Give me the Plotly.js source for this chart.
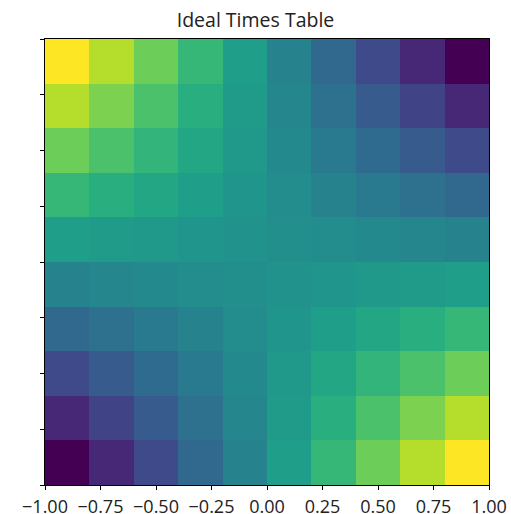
<!DOCTYPE html>
<html>
<head>
<meta charset="utf-8">
<script src="https://cdn.plot.ly/plotly-3.0.1.min.js"></script>
<style>html,body{margin:0;padding:0;background:#fff;}#chart{width:511px;height:514px;}</style>
</head>
<body>
<div id="chart"></div>
<script>
// cell centres along each axis
var xCenters = [-0.9, -0.7, -0.5, -0.3, -0.1, 0.1, 0.3, 0.5, 0.7, 0.9];
var yCenters = [-0.9, -0.7, -0.5, -0.3, -0.1, 0.1, 0.3, 0.5, 0.7, 0.9];
// product values, row by row (row i belongs to yCenters[i])
var row0 = [0.81, 0.63, 0.45, 0.27, 0.09, -0.09, -0.27, -0.45, -0.63, -0.81];
var row1 = [0.63, 0.49, 0.35, 0.21, 0.07, -0.07, -0.21, -0.35, -0.49, -0.63];
var row2 = [0.45, 0.35, 0.25, 0.15, 0.05, -0.05, -0.15, -0.25, -0.35, -0.45];
var row3 = [0.27, 0.21, 0.15, 0.09, 0.03, -0.03, -0.09, -0.15, -0.21, -0.27];
var row4 = [0.09, 0.07, 0.05, 0.03, 0.01, -0.01, -0.03, -0.05, -0.07, -0.09];
var row5 = [-0.09, -0.07, -0.05, -0.03, -0.01, 0.01, 0.03, 0.05, 0.07, 0.09];
var row6 = [-0.27, -0.21, -0.15, -0.09, -0.03, 0.03, 0.09, 0.15, 0.21, 0.27];
var row7 = [-0.45, -0.35, -0.25, -0.15, -0.05, 0.05, 0.15, 0.25, 0.35, 0.45];
var row8 = [-0.63, -0.49, -0.35, -0.21, -0.07, 0.07, 0.21, 0.35, 0.49, 0.63];
var row9 = [-0.81, -0.63, -0.45, -0.27, -0.09, 0.09, 0.27, 0.45, 0.63, 0.81];
var xTickVals = [-1.0, -0.75, -0.5, -0.25, 0.0, 0.25, 0.5, 0.75, 1.0];
var xTickText = ["\u22121.00", "\u22120.75", "\u22120.50", "\u22120.25", "0.00", "0.25", "0.50", "0.75", "1.00"];
var yTickVals = [-1.0, -0.75, -0.5, -0.25, 0.0, 0.25, 0.5, 0.75, 1.0];

var z = [row0, row1, row2, row3, row4, row5, row6, row7, row8, row9];

var trace = {
  type: 'heatmap',
  x: xCenters,
  y: yCenters,
  z: z,
  colorscale: 'Viridis',
  zmin: -0.81,
  zmax: 0.81,
  showscale: false,
  hoverinfo: 'x+y+z'
};

var layout = {
  width: 511,
  height: 514,
  margin: {l: 45, r: 22, t: 39, b: 29, pad: 0},
  paper_bgcolor: '#ffffff',
  plot_bgcolor: '#ffffff',
  font: {family: 'Open Sans', size: 17, color: '#222'},
  title: {text: 'Ideal Times Table', x: 0.5, xanchor: 'center', y: 1 - 20/514, yanchor: 'middle',
          font: {family: 'Open Sans', size: 19.5, color: '#222'}},
  xaxis: {
    range: [-1, 1],
    tickvals: xTickVals,
    ticktext: xTickText,
    ticks: 'outside', ticklen: 4, tickwidth: 1, tickcolor: '#000',
    ticklabelstandoff: 1,
    showline: true, linecolor: '#000', linewidth: 1, mirror: true,
    showgrid: false, zeroline: false,
    tickfont: {family: 'Open Sans', size: 18, color: '#222'}
  },
  yaxis: {
    range: [1, -1],
    tickvals: yTickVals,
    ticktext: yTickVals.map(function(){return '';}),
    ticks: 'outside', ticklen: 4, tickwidth: 1, tickcolor: '#000',
    showline: true, linecolor: '#000', linewidth: 1, mirror: true,
    showgrid: false, zeroline: false
  }
};

Plotly.newPlot('chart', [trace], layout, {displayModeBar: false, staticPlot: true});
</script>
</body>
</html>
